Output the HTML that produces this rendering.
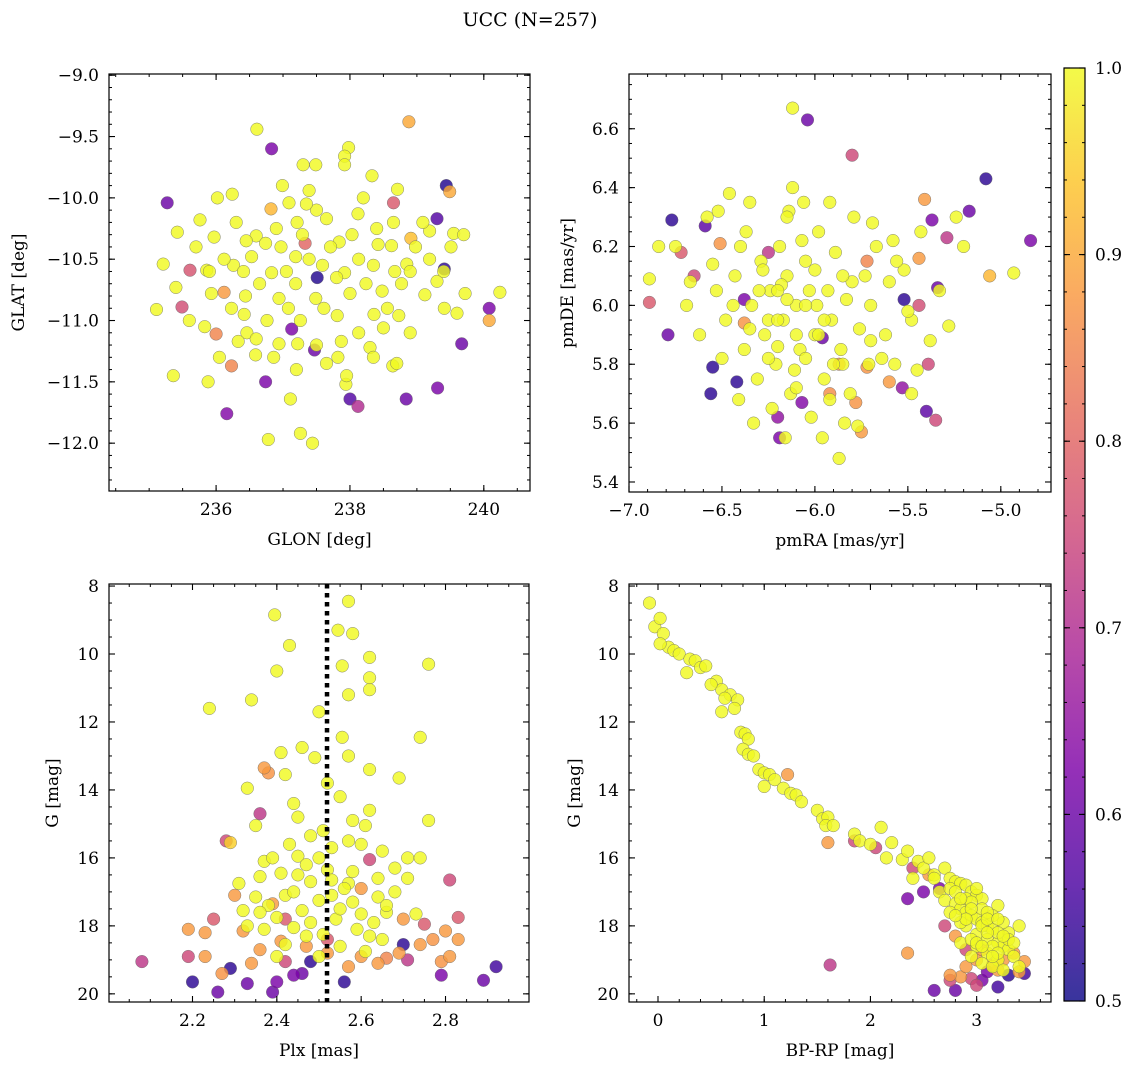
<!DOCTYPE html>
<html><head><meta charset="utf-8"><title>UCC (N=257)</title>
<style>
html,body{margin:0;padding:0;background:#fff;}
svg{display:block;font-family:"DejaVu Serif","Liberation Serif",serif;}
</style></head>
<body>
<svg id="fig" width="1136" height="1068" viewBox="0 0 1136 1068" xmlns="http://www.w3.org/2000/svg">
<rect width="1136" height="1068" fill="#fff"/>
<text x="530" y="26" font-size="19" text-anchor="middle">UCC (N=257)</text>
</svg>
<script>
// ---- data (x, y, membership probability) ----
const lonLat = [
[235.27,-10.04,0.6],[238.88,-9.38,0.9],[236.61,-9.44,1],[236.83,-9.6,0.62],[237.98,-9.59,1],[237.92,-9.66,1],[237.3,-9.73,1],
[239.44,-9.9,0.52],[239.49,-9.95,0.9],[239.3,-10.17,0.57],[239.41,-10.58,0.53],[240.08,-10.9,0.62],[239.67,-11.19,0.6],
[239.31,-11.55,0.62],[238.84,-11.64,0.6],[238.0,-11.64,0.57],[238.12,-11.7,0.7],[236.16,-11.76,0.63],[236.74,-11.5,0.62],
[237.51,-10.65,0.52],[237.47,-11.24,0.6],[237.13,-11.07,0.62],[238.65,-10.04,0.78],[235.49,-10.89,0.76],[236.0,-11.11,0.85],
[235.61,-10.59,0.77],[236.12,-10.77,0.88],[236.23,-11.37,0.85],[236.78,-11.97,1],[237.26,-11.92,1],[237.44,-12.0,1],
[235.36,-11.45,1],[235.11,-10.91,1],[235.21,-10.54,1],[240.24,-10.77,1],[240.08,-11.0,0.9],[239.51,-10.4,1],
[236.99,-9.9,1],[237.49,-9.73,1],[237.92,-9.73,1],[238.33,-9.82,1],[238.71,-9.93,1],[237.39,-9.94,1],[237.09,-10.04,1],
[236.24,-9.97,1],[236.82,-10.09,0.92],[235.76,-10.18,1],[235.42,-10.28,1],[235.97,-10.32,1],[236.6,-10.31,1],[237.21,-10.2,1],
[237.65,-10.17,1],[238.12,-10.13,1],[238.65,-10.2,1],[239.19,-10.27,1],[239.55,-10.29,1],[238.91,-10.33,0.93],[238.42,-10.38,1],
[237.84,-10.36,1],[237.33,-10.37,0.8],[236.74,-10.37,1],[236.26,-10.55,1],[235.86,-10.59,1],[235.4,-10.73,1],[235.93,-10.78,1],
[236.41,-10.6,1],[236.83,-10.61,1],[237.19,-10.7,1],[237.59,-10.55,1],[237.92,-10.61,1],[238.35,-10.55,1],[238.85,-10.54,1],
[239.3,-10.68,1],[239.72,-10.78,1],[239.6,-10.94,1],[239.12,-10.79,1],[238.73,-10.96,1],[238.48,-10.76,1],[238.0,-10.78,1],
[237.49,-10.82,1],[236.94,-10.82,1],[236.42,-10.95,1],[235.83,-11.05,1],[236.46,-11.1,1],[236.94,-11.19,1],[237.26,-11.0,1],
[237.81,-10.96,1],[238.36,-10.95,1],[238.5,-11.06,1],[237.87,-11.17,1],[237.22,-11.19,1],[236.59,-11.28,1],[236.33,-11.17,1],
[237.65,-11.35,1],[238.3,-11.22,1],[238.64,-11.37,1],[237.94,-11.52,1],[237.11,-11.64,1],[235.88,-11.5,1],[236.53,-10.48,1],
[237.19,-10.48,1],[238.62,-10.39,1],[236.12,-10.5,1],[236.44,-10.8,1],[236.65,-10.7,1],[236.97,-10.4,1],[237.39,-10.5,1],
[237.71,-10.4,1],[238.03,-10.3,1],[238.24,-10.7,1],[238.56,-10.9,1],[238.77,-10.7,1],[238.98,-10.4,1],[239.19,-10.5,1],[237.08,-10.9,1],
[237.5,-11.2,1],[237.82,-11.3,1],[238.13,-11.1,1],[238.35,-11.3,1],[236.76,-11.0,1],[236.23,-10.9,1],[235.7,-10.4,1],[237.29,-10.3,1],
[238.13,-10.5,1],[238.67,-10.6,1],[237.61,-10.9,1],[236.86,-11.3,1],[239.41,-10.9,1],[236.02,-10.0,1],[239.09,-10.2,1],
[236.3,-10.2,1],[236.9,-10.25,1],[237.5,-10.1,1],[238.2,-10.0,1],[238.9,-10.6,1],[239.4,-10.6,1],[237.2,-11.4,1],[238.9,-11.1,1],
[236.6,-11.15,1],[235.9,-10.6,1],[237.8,-10.65,1],[238.4,-10.25,1],[237.05,-10.6,1],[236.45,-10.35,1],[239.7,-10.3,1],
[235.6,-11.0,1],[238.7,-11.35,1],[237.35,-10.05,1],[236.05,-11.3,1],[237.95,-11.45,1]
];
const pmPm = [
[-6.12,6.67,1],[-6.04,6.63,0.6],[-5.8,6.51,0.75],[-6.77,6.29,0.53],[-6.59,6.27,0.58],[-6.25,6.18,0.72],[-5.08,6.43,0.53],
[-4.84,6.22,0.62],[-5.17,6.32,0.6],[-5.29,6.23,0.72],[-5.34,6.06,0.6],[-5.52,6.02,0.53],[-5.37,6.29,0.62],[-5.39,5.8,0.75],
[-5.53,5.72,0.65],[-5.4,5.64,0.58],[-6.56,5.7,0.53],[-6.42,5.74,0.53],[-6.55,5.79,0.53],[-6.79,5.9,0.6],[-6.2,5.62,0.65],
[-6.19,5.55,0.62],[-6.07,5.67,0.63],[-5.96,5.89,0.6],[-5.72,6.15,0.85],[-6.38,6.02,0.62],[-6.38,5.94,0.87],[-6.65,6.1,0.75],
[-6.72,6.18,0.78],[-6.51,6.21,0.87],[-6.89,6.01,0.78],[-5.44,6.16,0.88],[-5.41,6.36,0.88],[-5.44,6.0,0.76],[-5.72,5.79,0.87],
[-5.78,5.67,0.87],[-5.87,5.8,0.87],[-5.92,5.7,0.86],[-5.6,5.74,0.88],[-5.75,5.57,0.88],[-5.35,5.61,0.75],[-4.93,6.11,1],
[-6.89,6.09,1],[-6.52,6.32,1],[-6.84,6.2,1],
[-6.53,6.05,1],[-6.48,5.95,1],[-6.43,6.1,1],[-6.38,5.85,1],[-6.37,6.25,1],[-6.34,6.0,1],[-6.31,5.75,1],[-6.29,6.15,1],[-6.27,5.9,1],
[-6.24,6.05,1],[-6.21,5.8,1],[-6.19,6.2,1],[-6.17,5.95,1],[-6.15,6.1,1],[-6.13,5.7,1],[-6.1,6.0,1],[-6.08,5.85,1],[-6.05,6.15,1],
[-6.03,6.05,1],[-6.0,5.9,1],[-5.98,6.25,1],[-5.95,5.75,1],[-5.93,6.05,1],[-5.91,5.95,1],[-5.89,6.18,1],[-5.86,5.85,1],[-5.83,6.02,1],
[-5.81,5.7,1],[-5.79,6.3,1],[-5.76,5.92,1],[-5.73,6.1,1],[-5.71,5.8,1],[-5.7,6.0,1],[-5.67,6.2,1],[-5.62,5.9,1],[-5.6,6.08,1],
[-5.57,5.8,1],[-5.52,6.12,1],[-5.48,5.95,1],[-5.43,6.25,1],[-5.38,5.88,1],[-5.33,6.05,1],[-6.62,5.9,1],[-6.67,6.08,1],[-6.58,6.3,1],
[-6.5,5.82,1],[-6.46,6.38,1],[-6.41,5.68,1],[-6.35,6.35,1],[-6.23,5.65,1],[-6.16,5.55,1],[-6.14,6.32,1],[-6.12,6.4,1],
[-6.06,6.35,1],[-6.02,5.62,1],[-5.96,5.55,1],[-5.92,6.35,1],[-5.87,5.48,1],[-5.85,5.8,1],[-5.77,5.59,1],[-5.64,5.82,1],
[-5.56,6.15,1],[-5.48,5.7,1],[-5.45,5.78,1],[-5.28,5.93,1],[-5.24,6.3,1],[-5.2,6.2,1],[-5.06,6.1,0.92],[-6.33,5.6,1],
[-6.25,5.95,1],[-6.18,6.07,1],[-6.11,5.78,1],[-6.07,6.22,1],[-5.99,6.0,1],[-5.92,5.68,1],[-5.84,5.6,1],[-6.44,6.0,1],
[-6.55,6.14,1],[-5.69,6.28,1],[-5.58,6.22,1],[-6.28,6.12,1],[-6.2,5.86,1],[-6.69,6.0,1],[-6.75,6.2,1],
[-6.3,6.05,1],[-6.2,5.95,1],[-6.1,5.9,1],[-6.05,6.0,1],[-5.95,5.95,1],[-6.15,6.02,1],[-6.25,5.82,1],[-6.0,6.12,1],[-5.9,5.8,1],
[-6.35,5.92,1],[-5.8,6.08,1],[-6.4,6.2,1],[-6.1,5.72,1],[-5.7,5.88,1],[-6.2,6.05,1],[-5.98,5.9,1],[-6.05,5.82,1],[-6.15,6.3,1],
[-5.5,5.98,1],[-5.85,6.1,1]
];
const plxG = [
[2.395,8.85,1],[2.57,8.45,1],[2.43,9.75,1],[2.545,9.3,1],[2.58,9.4,1],[2.555,10.35,1],[2.62,10.1,1],[2.62,10.7,1],[2.40,10.5,1],
[2.50,11.7,1],[2.24,11.6,1],[2.34,11.35,1],[2.57,11.2,1],[2.62,11.05,1],[2.76,10.3,1],[2.74,12.45,1],[2.555,12.45,1],
[2.57,13.0,1],[2.46,12.75,1],[2.41,12.9,1],[2.49,13.05,1],[2.62,13.4,1],[2.69,13.65,1],[2.42,13.55,1],[2.33,13.95,1],
[2.44,14.4,1],[2.55,14.2,1],[2.62,14.6,1],[2.61,15.05,1],[2.76,14.9,1],[2.51,15.2,1],[2.48,15.35,1],[2.57,15.5,1],
[2.43,15.6,1],[2.65,15.8,1],[2.37,16.1,1],[2.45,15.95,1],[2.52,16.35,1],[2.71,16.0,1],[2.74,16.0,1],[2.31,16.75,1],
[2.36,16.55,1],[2.41,16.45,1],[2.48,16.7,1],[2.53,16.65,1],[2.57,16.75,1],[2.64,16.6,1],[2.71,16.6,1],[2.35,17.15,1],
[2.42,17.1,1],[2.50,17.25,1],[2.58,17.3,1],[2.64,17.15,1],[2.32,17.55,1],[2.40,17.75,1],[2.46,17.55,1],[2.54,17.8,1],
[2.60,17.65,1],[2.66,17.6,1],[2.73,17.65,1],[2.37,18.1,1],[2.44,18.05,1],[2.51,18.25,1],[2.59,18.1,1],[2.65,18.4,1],
[2.42,18.55,1],[2.55,18.6,1],[2.61,18.75,1],[2.35,15.05,1],[2.29,15.55,0.95],[2.47,16.2,1],[2.56,16.9,1],[2.68,17.0,1],
[2.38,17.4,1],[2.53,17.1,1],[2.63,17.9,1],[2.45,14.8,1],[2.52,13.8,1],[2.39,16.0,1],[2.58,14.9,1],[2.47,18.3,1],
[2.44,17.0,1],[2.50,16.0,1],[2.55,17.5,1],[2.62,18.3,1],[2.40,18.9,1],[2.48,17.9,1],[2.58,16.4,1],[2.36,17.6,1],
[2.68,16.3,1],[2.45,16.5,1],[2.33,18.0,1],[2.6,15.6,1],[2.50,18.9,1],[2.66,17.4,1],[2.53,15.7,1],
[2.28,15.5,0.75],[2.36,14.7,0.72],[2.37,13.35,0.88],[2.38,13.5,0.87],[2.25,17.8,0.78],[2.75,17.95,0.78],[2.83,17.75,0.78],
[2.81,16.65,0.75],[2.62,16.05,0.75],[2.19,18.1,0.88],[2.23,18.9,0.88],[2.27,19.4,0.87],[2.34,19.1,0.88],[2.23,18.2,0.88],
[2.36,18.7,0.88],[2.42,19.05,0.75],[2.46,19.4,0.6],[2.48,19.05,0.53],[2.40,19.65,0.62],[2.33,19.7,0.6],[2.29,19.25,0.53],
[2.26,19.95,0.6],[2.20,19.65,0.53],[2.08,19.05,0.72],[2.19,18.9,0.75],[2.39,19.95,0.6],[2.44,19.45,0.62],[2.56,19.65,0.53],
[2.70,18.55,0.53],[2.71,19.0,0.72],[2.79,19.05,0.87],[2.81,18.9,0.88],[2.79,19.45,0.62],[2.89,19.6,0.6],[2.92,19.2,0.55],
[2.83,18.4,0.88],[2.80,18.15,0.88],[2.64,19.1,0.88],[2.60,18.9,0.88],[2.52,18.8,0.88],[2.47,18.6,0.88],[2.69,18.8,0.88],
[2.41,18.45,0.88],[2.32,18.15,0.88],[2.39,17.35,0.88],[2.60,16.9,0.88],[2.70,17.8,0.88],[2.30,17.1,0.88],[2.74,18.55,0.88],
[2.42,17.8,0.78],[2.52,18.4,0.78],[2.57,19.2,0.88],[2.66,18.95,0.85],[2.77,18.4,0.87]
];
const cmdG = [
[-0.08,8.5,1],[-0.03,9.2,1],[0.02,8.95,1],[0.05,9.4,1],[0.1,9.8,1],[0.15,9.9,1],[0.2,10.0,1],[0.3,10.15,1],[0.35,10.2,1],
[0.27,10.55,1],[0.4,10.4,1],[0.45,10.35,1],[0.55,10.8,1],[0.6,11.05,1],[0.68,11.2,1],[0.63,11.3,1],[0.75,11.35,1],[0.6,11.7,1],
[0.72,11.6,1],[0.78,12.3,1],[0.82,12.35,1],[0.85,12.5,1],[0.8,12.8,1],[0.85,12.95,1],[0.9,13.0,1],[0.95,13.4,1],[1.0,13.5,1],
[1.05,13.55,1],[1.1,13.7,1],[1.0,13.9,1],[1.18,13.95,1],[1.25,14.1,1],[1.3,14.15,1],[1.35,14.35,1],[1.5,14.6,1],[1.55,14.85,1],
[1.6,14.8,1],[1.58,15.05,1],[1.65,15.05,1],[1.85,15.3,1],[1.9,15.5,1],[2.0,15.6,1],[2.1,15.1,1],[2.2,15.55,1],[2.15,16.0,1],
[2.3,16.05,1],[2.35,15.8,1],[2.45,16.1,1],[2.5,16.3,1],[2.55,16.0,1],[2.6,16.5,1],[2.7,16.3,1],[2.75,16.6,1],[2.8,16.7,1],
[2.85,16.75,1],[2.9,16.8,1],[2.95,17.0,1],[3.0,17.1,1],[3.05,17.2,1],[2.65,17.0,1],[2.7,17.25,1],[2.8,17.35,1],[2.85,17.5,1],
[2.9,17.6,1],[2.95,17.7,1],[3.0,17.8,1],[3.05,17.9,1],[3.1,18.0,1],[3.15,18.1,1],[2.9,18.0,1],[3.0,18.25,1],[3.1,18.4,1],
[3.2,18.5,1],[3.25,18.6,1],[3.3,18.7,1],[3.0,18.6,1],[3.1,18.8,1],[3.2,19.0,1],[3.35,18.9,1],[3.4,19.2,1],[2.85,18.5,1],
[2.95,18.9,1],[3.05,19.1,1],[3.15,19.2,1],[3.25,19.3,1],[3.3,18.2,1],[3.4,18.0,1],[3.05,17.5,1],[3.2,17.4,1],[2.9,17.2,1],
[3.15,17.7,1],[3.25,17.9,1],[2.75,16.9,1],[2.6,16.6,1],[2.85,17.9,1],[2.95,18.4,1],[3.15,18.6,1],[3.0,16.9,1],[2.4,16.6,1],
[2.8,17.0,1],[3.1,17.6,1],[2.95,17.3,1],[3.2,18.2,1],[2.75,17.6,1],[0.5,10.9,1],[0.02,9.7,1],
[3.05,18.0,1],[3.1,18.2,1],[2.95,17.5,1],[3.2,18.8,1],[3.3,18.4,1],[3.0,18.5,1],[3.15,18.9,1],[2.9,17.8,1],[3.25,18.3,1],
[3.1,17.8,1],[2.85,17.2,1],[3.05,18.6,1],[3.35,18.5,1],[2.8,17.7,1],[3.2,17.8,1],
[1.22,13.55,0.88],[1.85,15.5,0.75],[1.6,15.55,0.88],[2.05,15.7,0.75],[2.35,17.2,0.62],[2.35,18.8,0.88],[1.62,19.15,0.72],
[2.6,19.9,0.6],[2.8,19.9,0.6],[2.85,19.5,0.88],[2.95,19.55,0.75],[3.05,19.6,0.62],[3.1,19.35,0.62],[3.2,19.3,0.88],
[3.3,19.45,0.53],[2.75,19.6,0.75],[2.9,19.2,0.88],[3.0,19.0,0.88],[3.4,19.35,0.88],[3.45,19.05,0.88],[3.35,18.8,0.88],
[3.15,19.15,0.88],[3.25,19.0,0.88],[2.65,16.9,0.62],[2.55,16.5,0.88],[2.9,18.7,0.75],[3.05,18.7,0.88],[2.5,17.0,0.62],
[2.7,18.0,0.75],[2.8,18.3,0.88],[2.4,16.3,0.75],[2.75,19.45,0.88],[3.0,19.75,0.75],[3.2,19.8,0.55],[3.45,19.4,0.55]
];
const cbarTicks = [0.5,0.6,0.7,0.8,0.9,1.0];

// ---- rendering ----
const svg = document.getElementById('fig');
const NS = 'http://www.w3.org/2000/svg';
function mk(tag, attrs, parent){
  const e = document.createElementNS(NS, tag);
  for (const k in attrs) e.setAttribute(k, attrs[k]);
  (parent||svg).appendChild(e);
  return e;
}
const stops = [[0,[13,8,135]],[0.125,[76,2,161]],[0.25,[126,3,168]],[0.375,[169,35,149]],[0.5,[204,71,120]],
  [0.625,[229,107,93]],[0.75,[248,149,64]],[0.875,[253,195,40]],[1,[240,249,33]]];
function plasma(t){
  t = Math.max(0, Math.min(1, t));
  for (let i=1;i<stops.length;i++){
    if (t <= stops[i][0]){
      const a = stops[i-1], b = stops[i], f = (t-a[0])/(b[0]-a[0]);
      const c = a[1].map((v,j)=>Math.round(v+(b[1][j]-v)*f));
      return 'rgb('+c.join(',')+')';
    }
  }
  return 'rgb(240,249,33)';
}
function pcol(p){ return plasma((p-0.5)/0.5); }
function fmt(v, dec){ return (v<0?'\u2212':'') + Math.abs(v).toFixed(dec); }

function panel(cfg){
  const {name,L,T,R,B,xmin,xmax,ymin,ymax,xMaj,xMin,yMaj,yMin,xDec,yDec,xlabel,ylabel,ylabX,data,invert} = cfg;
  const g = mk('g', {});
  
  
  const sx = v => L + (v - xmin)/(xmax - xmin)*(R - L);
  const sy = invert ? (v => T + (v - ymin)/(ymax - ymin)*(B - T)) : (v => B - (v - ymin)/(ymax - ymin)*(B - T));
  const clip = mk('clipPath', {id:'clip-'+name}, g);
  mk('rect', {x:L, y:T, width:R-L, height:B-T}, clip);
  const pts = mk('g', {'clip-path':'url(#clip-'+name+')'}, g);
  
  
  const sorted = data.slice().sort((a,b)=>a[2]-b[2]);
  sorted.forEach(d=>{
    const c = mk('circle', {cx:sx(d[0]).toFixed(1), cy:sy(d[1]).toFixed(1), r:6.3, fill:pcol(d[2]), 'fill-opacity':0.82, stroke:'#666', 'stroke-width':0.4}, pts);
    
    
  });
  if (cfg.vline !== undefined){
    const l = mk('line', {x1:sx(cfg.vline), x2:sx(cfg.vline), y1:T, y2:B, stroke:'#000', 'stroke-width':4.5, 'stroke-dasharray':'4.5,4.5'}, g);
    
    
  }
  const eps = 1e-9;
  function range(a, b, st){ const out=[]; const s=Math.ceil(a/st - eps); for(let i=s; i*st<=b+eps; i++) out.push(+(i*st).toFixed(6)); return out; }
  range(xmin,xmax,xMin).forEach(v=>{ const x=sx(v); mk('line',{x1:x,x2:x,y1:B,y2:B-3,stroke:'#000','stroke-width':1},g); mk('line',{x1:x,x2:x,y1:T,y2:T+3,stroke:'#000','stroke-width':1},g); });
  range(ymin,ymax,yMin).forEach(v=>{ const y=sy(v); mk('line',{x1:L,x2:L+3,y1:y,y2:y,stroke:'#000','stroke-width':1},g); mk('line',{x1:R,x2:R-3,y1:y,y2:y,stroke:'#000','stroke-width':1},g); });
  range(xmin,xmax,xMaj).forEach(v=>{ const x=sx(v);
    mk('line',{x1:x,x2:x,y1:B,y2:B-6,stroke:'#000','stroke-width':1.1},g); mk('line',{x1:x,x2:x,y1:T,y2:T+6,stroke:'#000','stroke-width':1.1},g);
    const t = mk('text',{x:x,y:B+24,'font-size':17,'text-anchor':'middle'},g); t.textContent = fmt(v,xDec);
      });
  range(ymin,ymax,yMaj).forEach(v=>{ const y=sy(v);
    mk('line',{x1:L,x2:L+6,y1:y,y2:y,stroke:'#000','stroke-width':1.1},g); mk('line',{x1:R,x2:R-6,y1:y,y2:y,stroke:'#000','stroke-width':1.1},g);
    const t = mk('text',{x:L-10,y:y+6,'font-size':17,'text-anchor':'end'},g); t.textContent = fmt(v,yDec);
      });
  const fr = mk('rect',{x:L,y:T,width:R-L,height:B-T,fill:'none',stroke:'#000','stroke-width':1.2},g);
   
  const xl = mk('text',{x:(L+R)/2,y:B+54,'font-size':17,'text-anchor':'middle'},g); xl.textContent = xlabel;
   
  const yl = mk('text',{x:ylabX,y:(T+B)/2,'font-size':17,'text-anchor':'middle',transform:'rotate(-90 '+ylabX+' '+((T+B)/2)+')'},g); yl.textContent = ylabel;
   
}

panel({name:'glon-glat-panel',L:109,T:74,R:530,B:491,xmin:234.4,xmax:240.69,ymin:-12.39,ymax:-8.99,xMaj:2,xMin:0.5,yMaj:0.5,yMin:0.1,xDec:0,yDec:1,xlabel:'GLON [deg]',ylabel:'GLAT [deg]',ylabX:24,data:lonLat});
panel({name:'proper-motion-panel',L:629,T:74,R:1051,B:492,xmin:-7.0,xmax:-4.73,ymin:5.366,ymax:6.786,xMaj:0.5,xMin:0.1,yMaj:0.2,yMin:0.05,xDec:1,yDec:1,xlabel:'pmRA [mas/yr]',ylabel:'pmDE [mas/yr]',ylabX:573,data:pmPm});
panel({name:'parallax-mag-panel',L:109,T:584,R:529,B:1002,xmin:2.002,xmax:2.998,ymin:7.94,ymax:20.24,xMaj:0.2,xMin:0.05,yMaj:2,yMin:0.5,xDec:1,yDec:0,xlabel:'Plx [mas]',ylabel:'G [mag]',ylabX:58,data:plxG,invert:true,vline:2.519});
panel({name:'cmd-panel',L:629,T:584,R:1051,B:1002,xmin:-0.273,xmax:3.70,ymin:7.94,ymax:20.24,xMaj:1,xMin:0.2,yMaj:2,yMin:0.5,xDec:0,yDec:0,xlabel:'BP-RP [mag]',ylabel:'G [mag]',ylabX:580,data:cmdG,invert:true});

// colorbar
(function(){
  const L=1064,R=1085,T=68,B=1001;
  const g = mk('g',{});
  
  
  const defs = mk('defs',{},g);
  const lg = mk('linearGradient',{id:'cbg',x1:0,y1:1,x2:0,y2:0},defs);
  stops.forEach(s=>mk('stop',{offset:s[0],'stop-color':plasma(s[0])},lg));
  mk('rect',{x:L,y:T,width:R-L,height:B-T,fill:'url(#cbg)','fill-opacity':0.82},g);
  const sy = v => B - (v-0.5)/0.5*(B-T);
  for (let i=0;i<=25;i++){ const v=0.5+i*0.02; const y=sy(v); mk('line',{x1:R,x2:R-3,y1:y,y2:y,stroke:'#000','stroke-width':1},g); mk('line',{x1:L,x2:L+3,y1:y,y2:y,stroke:'#000','stroke-width':1},g); }
  cbarTicks.forEach(v=>{ const y=sy(v);
    mk('line',{x1:R,x2:R-6,y1:y,y2:y,stroke:'#000','stroke-width':1.1},g); mk('line',{x1:L,x2:L+6,y1:y,y2:y,stroke:'#000','stroke-width':1.1},g);
    const t = mk('text',{x:R+10,y:y+6,'font-size':17},g); t.textContent = v.toFixed(1);
      });
  mk('rect',{x:L,y:T,width:R-L,height:B-T,fill:'none',stroke:'#000','stroke-width':1.2},g);
})();
</script>
</body></html>
